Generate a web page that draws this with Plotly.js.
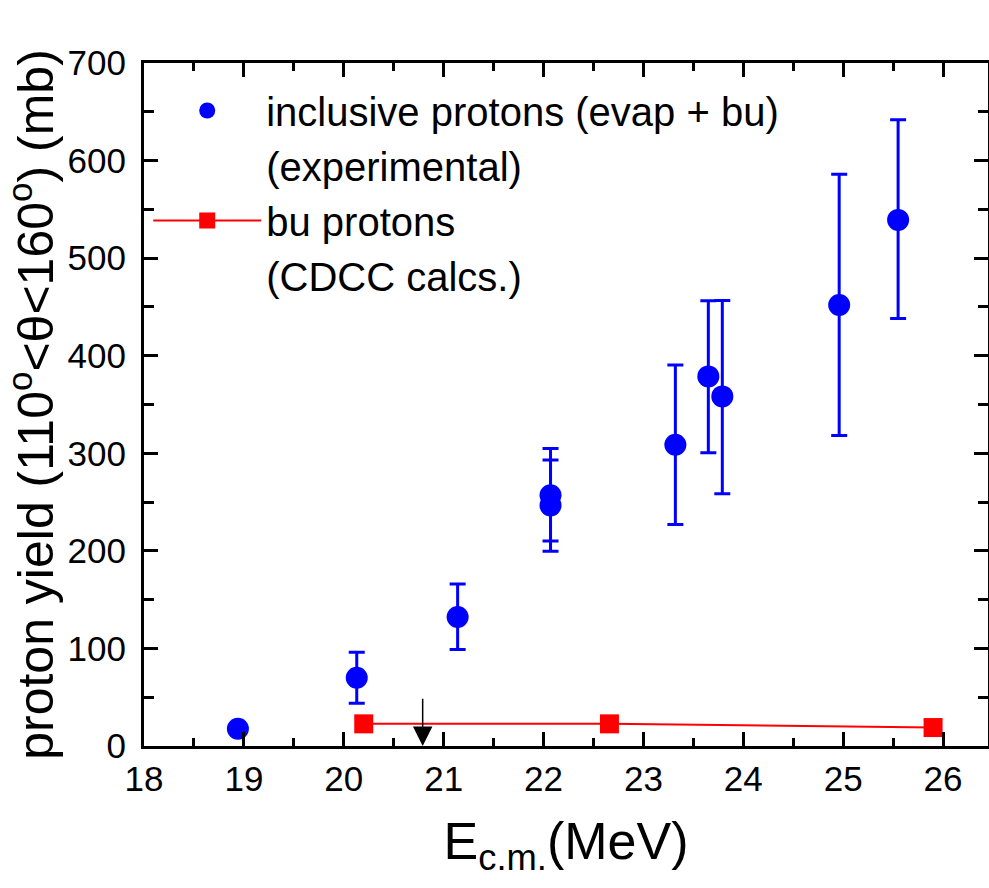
<!DOCTYPE html>
<html>
<head>
<meta charset="utf-8">
<script src="https://cdn.plot.ly/plotly-3.0.1.min.js"></script>
<style>
  html, body { margin: 0; padding: 0; background: #fff; }
  #chart { width: 989px; height: 888px; }
</style>
</head>
<body>
<div id="chart"></div>
<script>
// Experimental inclusive protons (evap + bu)
const expEnergy = [18.94, 20.13, 21.14, 22.07, 22.07, 23.32, 23.65, 23.79, 24.96, 25.55];
const expYield  = [17.6, 69.9, 132.3, 257, 246.6, 308.8, 378.8, 358.3, 451.9, 539.2];
const expTop    = [17.6, 96, 166, 305, 293, 390.4, 456.3, 456.6, 586, 641.8];
const expBottom = [17.6, 43.8, 99, 210, 199.6, 226.9, 300.6, 258.6, 318.3, 438.2];

// CDCC calculated breakup protons
const cdccEnergy = [20.20, 22.66, 25.90];
const cdccYield  = [22.7, 22.7, 18.9];

// Arrow marker (barrier position)
const arrowEnergy = [20.79];
const arrowFrom = [50];
const arrowTo = [0];

const xTicks = [18, 19, 20, 21, 22, 23, 24, 25, 26];
const yTicks = [0, 100, 200, 300, 400, 500, 600, 700];

const errPlus = expTop.map((t, i) => t - expYield[i]);
const errMinus = expYield.map((v, i) => v - expBottom[i]);

const FONT = 'Liberation Sans, Arial, sans-serif';

const traces = [
  {
    type: 'scatter', mode: 'markers',
    x: expEnergy, y: expYield,
    name: 'inclusive protons (evap + bu)',
    marker: { symbol: 'circle', color: '#0000ff', size: 22 },
    error_y: { type: 'data', symmetric: false, array: errPlus, arrayminus: errMinus,
               color: '#0000ff', thickness: 3, width: 8 },
    hoverinfo: 'x+y'
  },
  {
    type: 'scatter', mode: 'markers',
    x: [null], y: [null],
    name: '(experimental)',
    marker: { color: 'rgba(0,0,0,0)', size: 1 },
    hoverinfo: 'skip'
  },
  {
    type: 'scatter', mode: 'lines+markers',
    x: cdccEnergy, y: cdccYield,
    name: 'bu protons',
    line: { color: '#ff0000', width: 2 },
    marker: { symbol: 'square', color: '#ff0000', size: 19 },
    hoverinfo: 'x+y'
  },
  {
    type: 'scatter', mode: 'markers',
    x: [null], y: [null],
    name: '(CDCC calcs.)',
    marker: { color: 'rgba(0,0,0,0)', size: 1 },
    hoverinfo: 'skip'
  }
];

const axisCommon = {
  showline: true, linecolor: '#000', linewidth: 3,
  mirror: 'ticks', ticks: 'inside', tickcolor: '#000', tickwidth: 3,
  showgrid: false, zeroline: false,
  tickfont: { family: FONT, size: 35, color: '#000' }
};

const layout = {
  width: 989, height: 888,
  margin: { l: 144, r: 1, t: 63, b: 142 },
  paper_bgcolor: '#fff', plot_bgcolor: '#fff',
  showlegend: true,
  legend: {
    x: 0.005, y: 0.978, xanchor: 'left', yanchor: 'top',
    bgcolor: 'rgba(0,0,0,0)', borderwidth: 0,
    font: { family: FONT, size: 40, color: '#000' },
    traceorder: 'normal', itemwidth: 108
  },
  xaxis: Object.assign({}, axisCommon, {
    range: [18, 26.45],
    tickmode: 'array', tickvals: xTicks, ticktext: xTicks.map(String),
    ticklen: 14,
    minor: { dtick: 0.5, ticks: 'inside', ticklen: 8, tickwidth: 3, tickcolor: '#000', showgrid: false },
    title: { text: 'E<sub>c.m.</sub>(MeV)', font: { family: FONT, size: 52, color: '#000' }, standoff: 26 }
  }),
  yaxis: Object.assign({}, axisCommon, {
    range: [0, 700],
    tickmode: 'array', tickvals: yTicks, ticktext: yTicks.map(String),
    ticklen: 14, ticklabelstandoff: 8,
    minor: { dtick: 50, ticks: 'inside', ticklen: 10, tickwidth: 3, tickcolor: '#000', showgrid: false },
    title: { text: 'proton yield (110<sup>o</sup>&lt;θ&lt;160<sup>o</sup>) (mb)', font: { family: FONT, size: 50, color: '#000' }, standoff: 10 }
  }),
  annotations: arrowEnergy.map((e, i) => ({
    x: e, y: arrowTo[i], xref: 'x', yref: 'y',
    ax: e, ay: arrowFrom[i], axref: 'x', ayref: 'y',
    text: '', showarrow: true, arrowhead: 2, arrowsize: 2.6, arrowwidth: 1.5, arrowcolor: '#000'
  }))
};

Plotly.newPlot('chart', traces, layout, { displayModeBar: false, staticPlot: true });
</script>
</body>
</html>
